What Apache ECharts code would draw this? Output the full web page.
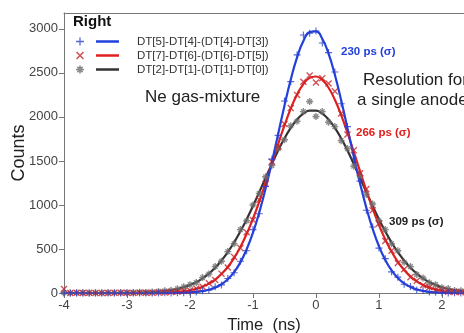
<!DOCTYPE html>
<html>
<head>
<meta charset="utf-8">
<script src="https://cdn.jsdelivr.net/npm/echarts@6/dist/echarts.min.js"></script>
<style>
  html, body { margin: 0; padding: 0; background: #fff; }
  #chart { width: 464px; height: 333px; }
</style>
</head>
<body>
<div id="chart"></div>
<script>
// time axis, 0.1 ns steps from -4.0 to 2.4
const times = [];
for (let i = 0; i <= 64; i++) times.push(+(-4 + i * 0.1).toFixed(1));

const seriesNames = [
  "DT[5]-DT[4]-(DT[4]-DT[3])",
  "DT[7]-DT[6]-(DT[6]-DT[5])",
  "DT[2]-DT[1]-(DT[1]-DT[0])"
];

// fitted curves
const blueFit = [
  0, 0, 0, 0, 0, 0, 0, 0, 0, 0, 0, 0, 0, 0, 0, 0, 0, 1, 2, 3,
  6, 12, 21, 37, 61, 99, 156, 237, 348, 497, 685, 916, 1187, 1487, 1807, 2127, 2424, 2675, 2861, 2963,
  2972, 2888, 2718, 2478, 2188, 1872, 1551, 1244, 967, 728, 531, 375, 257, 170, 109, 68, 41, 24, 13, 7, 4, 2, 1, 0, 0
];
const redFit = [
  0, 0, 0, 0, 0, 0, 0, 0, 0, 0, 0, 0, 0, 0, 1, 2, 4, 8, 12, 20,
  31, 48, 72, 106, 153, 215, 295, 397, 522, 671, 844, 1039, 1250, 1470, 1692, 1903, 2095, 2254, 2373, 2443,
  2459, 2421, 2331, 2195, 2021, 1820, 1603, 1381, 1163, 959, 772, 609, 469, 354, 261, 188, 132, 91, 61, 41, 26, 16, 10, 6, 4
];
const blackFit = [
  0, 0, 0, 0, 0, 0, 0, 0, 0, 0, 1, 2, 4, 6, 10, 15, 22, 32, 46, 66,
  91, 124, 167, 221, 288, 369, 464, 575, 700, 838, 988, 1146, 1307, 1466, 1618, 1757, 1876, 1971, 2037, 2071,
  2071, 2037, 1971, 1876, 1757, 1618, 1466, 1307, 1146, 988, 838, 700, 575, 464, 369, 288, 221, 167, 124, 91, 66, 46, 32, 22, 15
];

// measured points
const bluePts = [
  0, 0, 0, 0, 0, 0, 0, 0, 0, 0, 0, 0, 0, 0, 0, 0, 2, 0, 4, 3,
  8, 10, 25, 34, 70, 92, 165, 230, 360, 480, 720, 900, 1210, 1520, 1790, 2180, 2400, 2705, 2930, 2950,
  2975, 2840, 2730, 2510, 2150, 1890, 1530, 1270, 940, 750, 510, 390, 240, 180, 100, 75, 35, 28, 10, 8, 3, 0, 2, 0, 0
];
const redPts = [
  45, 0, 2, 0, 3, 0, 1, 0, 4, 2, 3, 0, 5, 2, 4, 6, 5, 10, 15, 22,
  28, 52, 70, 110, 148, 220, 290, 410, 510, 690, 830, 1060, 1240, 1490, 1660, 1920, 2100, 2250, 2400, 2470,
  2390, 2440, 2380, 2290, 2040, 1800, 1620, 1360, 1180, 940, 790, 590, 480, 340, 270, 180, 140, 88, 65, 38, 30, 14, 12, 8, 5
];
const grayPts = [
  3, 0, 2, 4, 0, 3, 2, 5, 3, 6, 4, 5, 8, 7, 12, 18, 25, 30, 48, 70,
  95, 118, 175, 215, 300, 360, 470, 560, 720, 820, 1000, 1130, 1320, 1450, 1640, 1740, 1900, 1950, 2060, 2175,
  2005, 2060, 1940, 1890, 1730, 1640, 1440, 1330, 1120, 1010, 820, 720, 560, 480, 350, 300, 210, 170, 115, 95, 60, 50, 28, 25, 12
];

const xTicks = [-4, -3, -2, -1, 0, 1, 2];
const yTicks = [0, 500, 1000, 1500, 2000, 2500, 3000];

const FONT = "Liberation Sans, Arial, sans-serif";
const PLUS = "path://M0,4.2H10V5.8H0Z M4.2,0H5.8V10H4.2Z";
const CROSS = "path://M1,2.1L2.1,1L9,7.9L7.9,9Z M7.9,1L9,2.1L2.1,9L1,7.9Z";
const STAR = "path://M0,4H10V6H0Z M4,0H6V10H4Z M1,2.4L2.4,1L9,7.6L7.6,9Z M7.6,1L9,2.4L2.4,9L1,7.6Z";

const pair = (ys) => times.map((t, i) => [t, ys[i]]);

const blue = "#2140dc";
const red = "#e0201e";
const dark = "#333333";

const chart = echarts.init(document.getElementById("chart"), null, { renderer: "canvas" });

const lineSeries = (name, data, color) => ({
  name,
  type: "line",
  data: pair(data),
  smooth: true,
  symbol: "none",
  lineStyle: { color, width: 2.2 },
  itemStyle: { color },
  z: 3
});

const pointSeries = (name, data, color, symbol) => ({
  name,
  type: "scatter",
  data: pair(data),
  symbol,
  symbolSize: 7,
  itemStyle: { color },
  z: 4
});

const label = (text, x, y, font, fill) => ({
  type: "text",
  x,
  y,
  style: { text, font: font + " " + FONT, fill, verticalAlign: "middle" }
});

chart.setOption({
  animation: false,
  textStyle: { fontFamily: FONT },
  grid: { left: 64, right: 0, top: 13, bottom: 40, containLabel: false, outerBoundsMode: "none" },
  xAxis: [
    {
      type: "value",
      min: -4,
      max: 2.35,
      interval: 1,
      name: "Time  (ns)",
      nameLocation: "middle",
      nameGap: 24,
      nameMoveOverlap: false,
      nameTextStyle: { fontSize: 16.5, color: "#222", fontFamily: FONT },
      axisLine: { lineStyle: { color: "#777" } },
      axisTick: { length: 5, lineStyle: { color: "#777" }, customValues: xTicks },
      axisLabel: { color: "#444", fontSize: 13, margin: 6, customValues: xTicks, formatter: (v) => String(v) },
      splitLine: { show: false }
    },
    {
      type: "value",
      position: "top",
      min: -4,
      max: 2.35,
      axisLine: { show: true, onZero: false, lineStyle: { color: "#777" } },
      axisTick: { show: false },
      axisLabel: { show: false },
      splitLine: { show: false }
    }
  ],
  yAxis: {
    type: "value",
    min: 0,
    max: 3180,
    interval: 500,
    name: "Counts",
    nameLocation: "middle",
    nameGap: 36,
    nameMoveOverlap: false,
    nameTextStyle: { fontSize: 18, color: "#222", fontFamily: FONT },
    axisLine: { show: true, onZero: false, lineStyle: { color: "#777" } },
    axisTick: { show: true, length: 5, lineStyle: { color: "#777" }, customValues: yTicks },
    axisLabel: { color: "#444", fontSize: 13, margin: 6, customValues: yTicks, formatter: (v) => String(v) },
    splitLine: { show: false }
  },
  legend: [
    {
      data: ["pts-blue", "pts-red", "pts-gray"],
      orient: "vertical",
      left: 76,
      top: 37.5,
      padding: 0,
      itemWidth: 8,
      itemHeight: 8,
      itemGap: 6,
      formatter: () => "",
      textStyle: { fontSize: 1 },
      selectedMode: false
    },
    {
      data: seriesNames.map((name) => ({ name, icon: "rect" })),
      orient: "vertical",
      left: 96,
      top: 34.5,
      padding: 0,
      itemWidth: 23,
      itemHeight: 2.5,
      itemGap: 0,
      textStyle: { fontSize: 11.5, lineHeight: 14, color: "#333", fontFamily: FONT, padding: [0, 0, 0, 13] },
      selectedMode: false
    }
  ],
  graphic: [
    label("Right", 73, 22, "bold 15px", "#111"),
    label("Ne gas-mixture", 145, 97, "17px", "#222"),
    label("Resolution for", 363, 80, "17px", "#222"),
    label("a single anode", 357, 100, "17px", "#222"),
    label("230 ps (σ)", 341, 52, "bold 11.5px", blue),
    label("266 ps (σ)", 356, 133, "bold 11.5px", red),
    label("309 ps (σ)", 389, 222, "bold 11.5px", "#222")
  ],
  series: [
    lineSeries(seriesNames[2], blackFit, dark),
    lineSeries(seriesNames[1], redFit, red),
    lineSeries(seriesNames[0], blueFit, blue),
    pointSeries("pts-gray", grayPts, "#6e6e6e", STAR),
    pointSeries("pts-red", redPts, "#c4262a", CROSS),
    pointSeries("pts-blue", bluePts, "#2a3fd0", PLUS)
  ]
});
</script>
</body>
</html>
